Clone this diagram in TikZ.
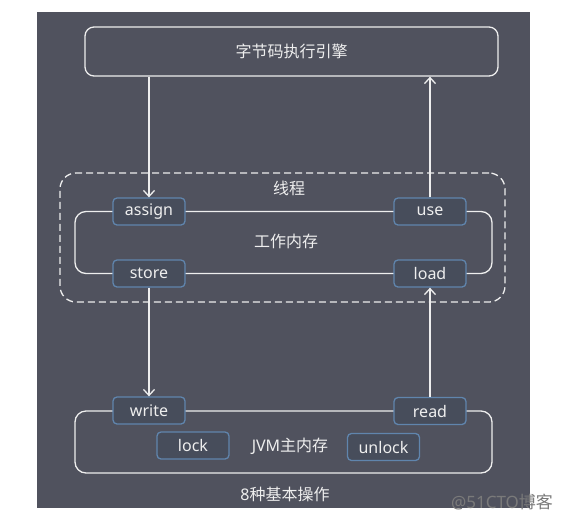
\documentclass[tikz,border=0pt]{standalone}
\usepackage{fontspec}
\setmainfont{Noto Sans}
\newfontfamily\cjk{Noto Sans CJK SC}
\usetikzlibrary{arrows.meta}
\definecolor{bg}{HTML}{50525E}
\definecolor{nodefill}{HTML}{474D5B}
\definecolor{nodeborder}{HTML}{6085AD}
\definecolor{fg}{HTML}{EEEEEE}
\definecolor{wm}{HTML}{7A7A7A}
\tikzset{
  line/.style={draw=fg, line width=1.3pt},
  opbox/.style={draw=nodeborder, fill=nodefill, line width=1.3pt, rounded corners=4pt,
    minimum width=72pt, minimum height=27pt, inner sep=0pt, text=fg,
    font=\fontsize{16}{19}\selectfont},
  lbl/.style={text=fg, inner sep=0pt, font=\fontsize{16}{19}\selectfont},
  arr/.style={line, -{Straight Barb[length=6pt,width=11pt,line width=1.3pt]}},
}
\begin{document}
\begin{tikzpicture}[x=1pt,y=-1pt]
\useasboundingbox (0,0) rectangle (562,520);
\fill[bg] (37,12) rectangle (530,508);

% engine
\node[line, rounded corners=9pt, minimum width=413pt, minimum height=49pt, text=fg,
  font=\fontsize{16}{19}\selectfont\cjk] (engine) at (291.5,51.5) {字节码执行引擎};

% thread (dashed)
\node[draw=fg, line width=1.3pt, dash pattern=on 7pt off 4pt, rounded corners=16pt,
  minimum width=445pt, minimum height=129pt] (thread) at (282.5,237.5) {};
\node[lbl, font=\fontsize{16}{19}\selectfont\cjk] (threadlbl) at (289,188) {线程};

% working memory loop
\draw[line, rounded corners=11pt] (75,211.5) rectangle (492,273.5);
\node[lbl, font=\fontsize{16}{19}\selectfont\cjk] (wmem) at (286,241) {工作内存};

\node[opbox] (assign) at (149,211.5) {assign};
\node[opbox] (store) at (149,273.5) {store};
\node[opbox] (use) at (430,211.5) {use};
\node[opbox] (load) at (430,273.5) {load};

% main memory loop
\draw[line, rounded corners=11pt] (75,411) rectangle (492,473);
\node[opbox] (write) at (149,410.5) {write};
\node[opbox] (read) at (430,411) {read};
\node[opbox] (lock) at (193,445.5) {lock};
\node[opbox] (unlock) at (383.5,447) {unlock};
\node[lbl] (jvm) at (290,446) {JVM{\cjk 主内存}};

\node[lbl] (ops) at (285,494) {8{\cjk 种基本操作}};

% arrows
\draw[arr] (engine.south -| assign) -- (assign.north);
\draw[arr] (use.north) -- (use |- engine.south);
\draw[arr] (store.south) -- (write.north);
\draw[arr] (read.north) -- (load.south);

% watermark
\node[text=wm, inner sep=0pt, font=\fontsize{17}{19}\selectfont] (wmk) at (502,502) {@51CTO{\cjk 博客}};
\end{tikzpicture}
\end{document}
